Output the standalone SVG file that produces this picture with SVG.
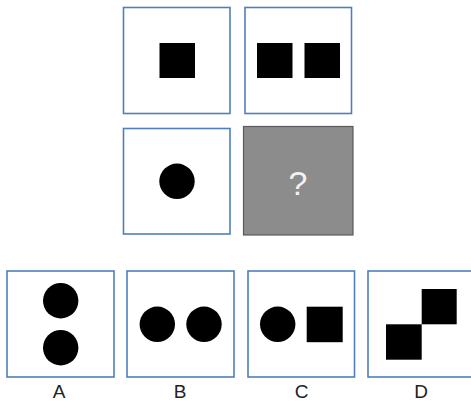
<svg xmlns="http://www.w3.org/2000/svg" width="471" height="402" viewBox="0 0 471 402">
<style>
.box{fill:#fff;stroke:#4f7fbb;stroke-width:1.6}
.sh{fill:#000}
.lbl{font-family:"Liberation Sans",Arial,sans-serif;font-size:19px;fill:#222;text-anchor:middle}
</style>
<rect width="471" height="402" fill="#fff"/>
<g id="q1"><rect class="box" x="123.5" y="7.5" width="106.5" height="106"/><rect class="sh" x="159.5" y="43" width="35.5" height="35"/></g>
<g id="q2"><rect class="box" x="245" y="7.5" width="106.5" height="106"/><rect class="sh" x="257" y="43" width="35.5" height="35"/><rect class="sh" x="304.5" y="43" width="35.5" height="35"/></g>
<g id="q3"><rect class="box" x="123.5" y="128.5" width="106.5" height="105.5"/><circle class="sh" cx="177" cy="181.3" r="17.7"/></g>
<g id="q4"><rect x="243.5" y="126.5" width="109.5" height="108.5" fill="#8c8c8c" stroke="#5a5a5a" stroke-width="1.2"/><text x="298" y="195" font-family="Liberation Sans,Arial,sans-serif" font-size="34" fill="#f2f2f2" text-anchor="middle">?</text></g>
<g id="A"><rect class="box" x="7" y="271" width="107" height="106"/><circle class="sh" cx="60.7" cy="300.7" r="17.7"/><circle class="sh" cx="60.7" cy="347.7" r="17.7"/><text class="lbl" x="59" y="398">A</text></g>
<g id="B"><rect class="box" x="127" y="271" width="107" height="106"/><circle class="sh" cx="157.3" cy="324.3" r="17.7"/><circle class="sh" cx="204" cy="324.3" r="17.7"/><text class="lbl" x="180" y="398">B</text></g>
<g id="C"><rect class="box" x="248" y="271" width="106.5" height="106"/><circle class="sh" cx="277.7" cy="324.3" r="17.7"/><rect class="sh" x="306.7" y="306.7" width="36" height="35.5"/><text class="lbl" x="301.5" y="398">C</text></g>
<g id="D"><rect class="box" x="368" y="271" width="106" height="106"/><rect class="sh" x="386" y="324.3" width="35.7" height="35.4"/><rect class="sh" x="421.7" y="289" width="35" height="35.3"/><text class="lbl" x="421" y="398">D</text></g>
<g id="connectors"/>
</svg>
